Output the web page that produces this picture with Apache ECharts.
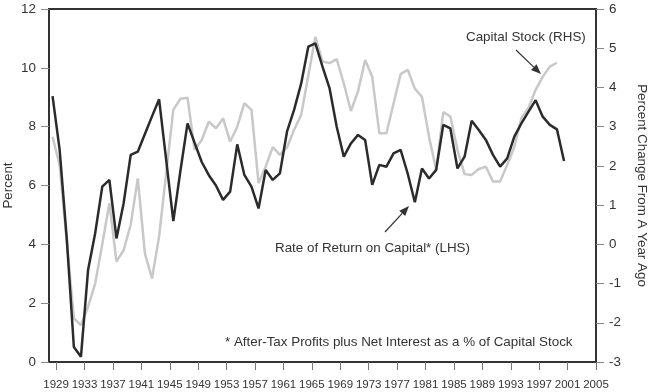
<!DOCTYPE html>
<html><head><meta charset="utf-8">
<script src="https://cdn.jsdelivr.net/npm/echarts@6/dist/echarts.min.js"></script>
<style>html,body{margin:0;padding:0;background:#fff}#c{width:650px;height:392px}</style>
</head><body><div id="c"></div>
<script>
const rateYears = [1929,1930,1931,1932,1933,1934,1935,1936,1937,1938,1939,1940,1941,1942,1943,1944,1945,1946,1947,1948,1949,1950,1951,1952,1953,1954,1955,1956,1957,1958,1959,1960,1961,1962,1963,1964,1965,1966,1967,1968,1969,1970,1971,1972,1973,1974,1975,1976,1977,1978,1979,1980,1981,1982,1983,1984,1985,1986,1987,1988,1989,1990,1991,1992,1993,1994,1995,1996,1997,1998,1999,2000,2001];
const rateValues = [9.04,7.21,4.2,0.51,0.18,3.13,4.38,5.96,6.19,4.2,
  5.39,7.04,7.15,7.75,8.35,8.93,6.86,4.79,6.5,8.11,
  7.45,6.8,6.35,6.0,5.51,5.79,7.4,6.36,5.96,5.22,
  6.53,6.19,6.41,7.83,8.57,9.47,10.72,10.83,10.04,9.3,
  8.0,6.98,7.43,7.72,7.55,6.02,6.7,6.64,7.09,7.21,
  6.4,5.43,6.58,6.24,6.53,8.06,7.94,6.58,6.98,8.2,
  7.89,7.55,7.04,6.64,6.92,7.66,8.11,8.51,8.9,8.34,
  8.06,7.91,6.83];
const capYears = [1929,1930,1931,1932,1933,1934,1935,1936,1937,1938,1939,1940,1941,1942,1943,1944,1945,1946,1947,1948,1949,1950,1951,1952,1953,1954,1955,1956,1957,1958,1959,1960,1961,1962,1963,1964,1965,1966,1967,1968,1969,1970,1971,1972,1973,1974,1975,1976,1977,1978,1979,1980,1981,1982,1983,1984,1985,1986,1987,1988,1989,1990,1991,1992,1993,1994,1995,1996,1997,1998,1999,2000];
const capValues = [2.74,2.02,0.06,-1.89,-2.06,-1.59,-1.0,0.0,1.05,-0.44,
  -0.15,0.5,1.68,-0.23,-0.87,0.2,1.82,3.43,3.71,3.74,
  2.41,2.66,3.13,2.96,3.21,2.62,3.0,3.6,3.43,1.56,
  1.98,2.48,2.28,2.47,2.92,3.3,4.3,5.29,4.66,4.62,
  4.72,4.1,3.4,3.9,4.7,4.27,2.83,2.83,3.59,4.34,
  4.45,3.97,3.76,2.74,1.9,3.37,3.26,2.41,1.79,1.77,
  1.92,1.98,1.6,1.6,2.02,2.48,3.22,3.48,3.94,4.27,
  4.53,4.63];
const xTickYears = [1929,1933,1937,1941,1945,1949,1953,1957,1961,1965,1969,1973,1977,1981,1985,1989,1993,1997,2001,2005];

const FONT = 'Liberation Sans, Arial, Helvetica, sans-serif';
const TXT = '#333';

function arrow(x1, y1, x2, y2) {
  const dx = x2 - x1, dy = y2 - y1, L = Math.hypot(dx, dy);
  const ux = dx / L, uy = dy / L, hl = 10, hw = 4;
  const bx = x2 - ux * hl, by = y2 - uy * hl;
  return [
    {type: 'line', shape: {x1: x1, y1: y1, x2: bx, y2: by}, style: {stroke: '#333', lineWidth: 1.2}},
    {type: 'polygon', shape: {points: [[x2, y2], [bx - uy * hw, by + ux * hw], [bx + uy * hw, by - ux * hw]]}, style: {fill: '#333'}}
  ];
}
function label(x, y, text) {
  return {type: 'text', x: x, y: y, style: {text: text, fill: TXT, font: '13.4px ' + FONT, align: 'left', verticalAlign: 'middle'}};
}

const tickPos = xTickYears.map(y => y + 0.5);
const chart = echarts.init(document.getElementById('c'), null, {renderer: 'canvas'});
chart.setOption({
  animation: false,
  backgroundColor: '#fff',
  grid: {left: 49, right: 54, top: 9, bottom: 30, containLabel: false, outerBoundsMode: 'none',
         show: true, borderColor: '#333', borderWidth: 2},
  xAxis: {
    type: 'value', min: 1928.5, max: 2005.5,
    axisLine: {show: true, lineStyle: {color: '#333', width: 2}},
    axisTick: {show: true, customValues: tickPos, length: 8, lineStyle: {color: '#777', width: 1}},
    axisLabel: {customValues: tickPos, formatter: v => String(Math.round(v - 0.5)), fontSize: 11.5, color: TXT, margin: 17, fontFamily: FONT},
    splitLine: {show: false}
  },
  yAxis: [
    {type: 'value', min: 0, max: 12, interval: 2, position: 'left',
     name: 'Percent', nameLocation: 'middle', nameGap: 34, nameMoveOverlap: false,
     nameTextStyle: {fontSize: 13.4, color: TXT, fontFamily: FONT},
     axisLine: {show: true, lineStyle: {color: '#333', width: 2}},
     axisTick: {show: true, length: 8, lineStyle: {color: '#888', width: 1}},
     axisLabel: {fontSize: 13.4, color: TXT, margin: 13, fontFamily: FONT},
     splitLine: {show: false}},
    {type: 'value', min: -3, max: 6, interval: 1, position: 'right',
     name: 'Percent Change From A Year Ago', nameLocation: 'middle', nameGap: 39, nameRotate: -90, nameMoveOverlap: false,
     nameTextStyle: {fontSize: 13.4, color: TXT, fontFamily: FONT},
     axisLine: {show: true, lineStyle: {color: '#333', width: 2}},
     axisTick: {show: true, length: 8, lineStyle: {color: '#888', width: 1}},
     axisLabel: {fontSize: 13.4, color: TXT, margin: 13, fontFamily: FONT},
     splitLine: {show: false}}
  ],
  series: [
    {name: 'Capital Stock (RHS)', type: 'line', yAxisIndex: 1, symbol: 'none',
     data: capYears.map((y, i) => [y, capValues[i]]),
     lineStyle: {color: '#c8c8c8', width: 2.5}},
    {name: 'Rate of Return on Capital* (LHS)', type: 'line', yAxisIndex: 0, symbol: 'none',
     data: rateYears.map((y, i) => [y, rateValues[i]]),
     lineStyle: {color: '#2b2b2b', width: 2.5}}
  ],
  graphic: [
    label(466, 37, 'Capital Stock (RHS)'),
    ...arrow(516, 50, 541, 74),
    label(275, 248, 'Rate of Return on Capital* (LHS)'),
    ...arrow(385, 232, 409, 206),
    label(225, 342, '* After-Tax Profits plus Net Interest as a % of Capital Stock')
  ]
});
</script></body></html>
